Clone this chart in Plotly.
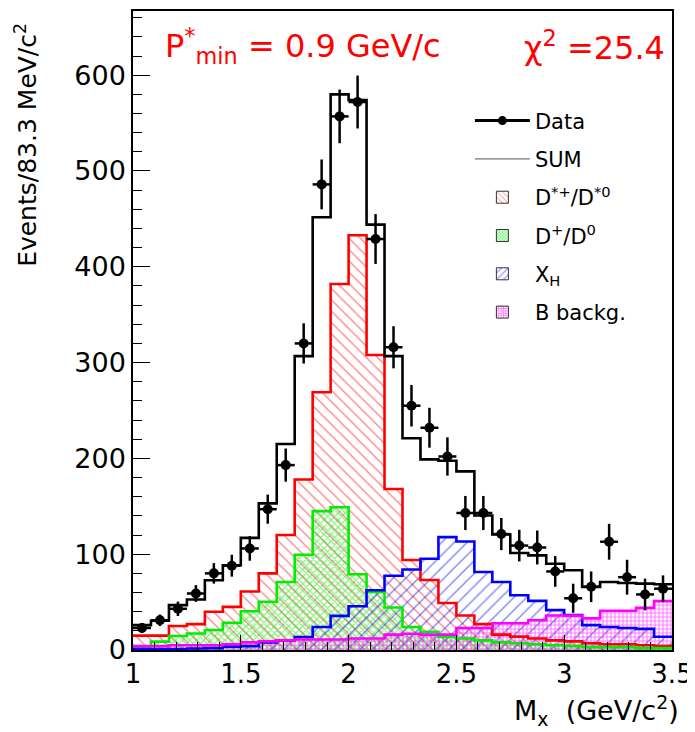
import numpy as np
import plotly.graph_objects as go

# ---------------- data ----------------
x_min, x_max = 1.0, 3.5
n_bins = 30
bin_edges = np.linspace(x_min, x_max, n_bins + 1)
bin_centers = 0.5 * (bin_edges[:-1] + bin_edges[1:])
bin_width = bin_edges[1] - bin_edges[0]

data_counts = [23, 31, 43, 59, 80, 88, 106, 147, 193, 320, 486, 557, 572, 429, 316,
               255, 232, 202, 143, 143, 121, 109, 107, 82, 54, 66, 113, 76, 58, 64]
data_errors = [5, 6, 7.5, 8.7, 10.7, 11.4, 12.8, 15.2, 17.3, 21, 26, 28, 27.6, 26, 22,
               21.7, 20.8, 20, 17.8, 17.8, 16.8, 16.5, 17.7, 16, 15.2, 16, 18.7, 18.2, 16.5, 13.9]
sum_counts = [26, 30.5, 46.8, 52.7, 72.8, 88.4, 117, 153, 215, 306.7, 451.7, 580, 574, 444, 306.7,
              221, 199, 197.6, 186.5, 140.4, 120.6, 101.2, 98.8, 90.1, 83.2, 65.9, 71, 70, 69.3, 68.6]
dstar_counts = [15, 15, 25, 27, 40, 45, 61, 80, 120, 178, 269, 382, 433, 308, 168,
                94, 73, 49, 36, 27, 16, 14, 12, 10, 9, 7, 6, 6, 5, 4]
dplus_counts = [3.5, 8.7, 14.6, 17.3, 20.8, 28.4, 40.5, 50.3, 71, 99.5, 145, 149, 79, 60.7, 44.4,
                24, 19, 14, 12, 10, 8, 7, 6, 5, 4, 3, 3, 3, 2, 2]
xh_counts = [1, 1, 1, 1.5, 2, 3.5, 4, 8, 10, 13.5, 24, 35.6, 45.7, 62.4, 77.5,
             84, 95.3, 117.8, 113.3, 81.4, 71, 57.2, 51.3, 41.6, 36.4, 26, 24, 23, 22, 13.8]
bbkg_counts = [4, 4, 5, 5, 5, 6, 8, 9, 10, 11, 11, 11, 12, 12, 16,
               17, 16, 16, 23, 23, 28, 28, 31, 36, 36, 33, 41, 41, 44, 51]

x_tick_vals = [1, 1.5, 2, 2.5, 3, 3.5]
x_tick_text = ["1", "1.5", "2", "2.5", "3", "3.5"]
y_tick_vals = [0, 100, 200, 300, 400, 500, 600]
y_tick_text = ["0", "100", "200", "300", "400", "500", "600"]

components = [
    ("D<sup>*+</sup>/D<sup>*0</sup>", dstar_counts, "#ff0000", "\\", 8, 0.16, 3),
    ("D<sup>+</sup>/D<sup>0</sup>", dplus_counts, "#00ee00", "x", 5, 0.45, 4),
    ("X<sub>H</sub>", xh_counts, "#0000ff", "/", 9, 0.15, 5),
    ("B backg.", bbkg_counts, "#ff00ff", "+", 4, 0.5, 6),
]

FONT = "DejaVu Sans"
fig = go.Figure()

def hatch(color, shape, size, sol):
    return dict(shape=shape, fgcolor=color, bgcolor="rgba(0,0,0,0)",
                size=size, solidity=sol, fillmode="overlay")

for name, counts, color, shape, size, sol, rank in components:
    fig.add_trace(go.Bar(
        x=bin_centers, y=counts, width=bin_width, name=name,
        legendgroup=name, showlegend=False,
        marker=dict(color="rgba(0,0,0,0)", line=dict(width=0),
                    pattern=hatch(color, shape, size, sol)),
        hoverinfo="skip",
    ))
for name, counts, color, shape, size, sol, rank in components:
    fig.add_trace(go.Scatter(
        x=bin_edges, y=list(counts) + [counts[-1]], mode="lines",
        line=dict(shape="hv", color=color, width=2.6),
        legendgroup=name, showlegend=False, hoverinfo="skip",
    ))

# SUM histogram
fig.add_trace(go.Scatter(
    x=bin_edges, y=list(sum_counts) + [sum_counts[-1]], mode="lines",
    line=dict(shape="hv", color="black", width=2.6),
    showlegend=False, hoverinfo="skip",
))
# data points
fig.add_trace(go.Scatter(
    x=bin_centers, y=data_counts, mode="markers",
    marker=dict(symbol="circle", size=10, color="black"),
    error_y=dict(type="data", array=data_errors, thickness=2.5, width=0, color="black"),
    error_x=dict(type="constant", value=bin_width / 2, thickness=2.5, width=0, color="black"),
    showlegend=False, hoverinfo="skip",
))

# legend-only entries
fig.add_trace(go.Scatter(
    x=[None], y=[None], mode="lines+markers", name="Data", legendgroup="Data", legendrank=1,
    line=dict(color="black", width=3), marker=dict(size=9, color="black"),
))
fig.add_trace(go.Scatter(
    x=[None], y=[None], mode="lines", name="SUM", legendgroup="SUM", legendrank=2,
    line=dict(color="#555555", width=1),
))
for name, counts, color, shape, size, sol, rank in components:
    fig.add_trace(go.Bar(
        x=[None], y=[None], name=name, legendgroup=name + "_leg", legendrank=rank,
        marker=dict(color="rgba(0,0,0,0)", line=dict(width=1, color="#333333"),
                    pattern=hatch(color, shape, max(size - 3, 3), min(sol * 1.4, 0.6))),
    ))

fig.update_layout(
    width=687, height=724,
    margin=dict(l=125, r=23, t=1, b=82),
    plot_bgcolor="white", paper_bgcolor="white",
    barmode="overlay", bargap=0,
    font=dict(family=FONT, color="black"),
    legend=dict(x=0.625, y=0.86, xanchor="left", yanchor="top",
                font=dict(family=FONT, size=21, color="black"),
                bgcolor="rgba(0,0,0,0)", tracegroupgap=8, traceorder="grouped",
                itemwidth=55),
)
fig.update_xaxes(
    range=[x_min, x_max], showgrid=False, zeroline=False,
    showline=True, mirror=True, linecolor="black", linewidth=1.5,
    ticks="inside", ticklen=15, tickwidth=1.2, tickcolor="black",
    tickvals=x_tick_vals, ticktext=x_tick_text,
    tickfont=dict(family=FONT, size=26, color="black"),
    minor=dict(ticks="inside", ticklen=8, dtick=0.1, tick0=1.0, tickcolor="black", tickwidth=1),
)
fig.update_yaxes(
    range=[0, 667], showgrid=False, zeroline=False,
    showline=True, mirror=True, linecolor="black", linewidth=1.5,
    ticks="inside", ticklen=17, tickwidth=1.2, tickcolor="black",
    tickvals=y_tick_vals, ticktext=y_tick_text,
    tickfont=dict(family=FONT, size=27, color="black"),
    minor=dict(ticks="inside", ticklen=9, dtick=20, tick0=0, tickcolor="black", tickwidth=1),
)

fig.add_annotation(
    x=0.056, y=0.946, xref="paper", yref="paper", xanchor="left", yanchor="middle",
    text="P<sup>*</sup><sub>min</sub> = 0.9 GeV/c", showarrow=False,
    font=dict(family=FONT, size=32, color="#ff0000"),
)
fig.add_annotation(
    x=0.99, y=0.946, xref="paper", yref="paper", xanchor="right", yanchor="middle",
    text="χ<sup>2</sup> =25.4", showarrow=False,
    font=dict(family=FONT, size=32, color="#ff0000"),
)
fig.add_annotation(
    x=1.017, y=-0.095, xref="paper", yref="paper", xanchor="right", yanchor="middle",
    text="M<sub>x</sub>&nbsp; (GeV/c<sup>2</sup>)", showarrow=False,
    font=dict(family=FONT, size=27, color="black"),
)
fig.add_annotation(
    x=-0.198, y=0.985, xref="paper", yref="paper", xanchor="center", yanchor="top",
    text="Events/83.3 MeV/c<sup>2</sup>", textangle=-90, showarrow=False,
    font=dict(family=FONT, size=25, color="black"),
)

fig.write_html("out.html")
